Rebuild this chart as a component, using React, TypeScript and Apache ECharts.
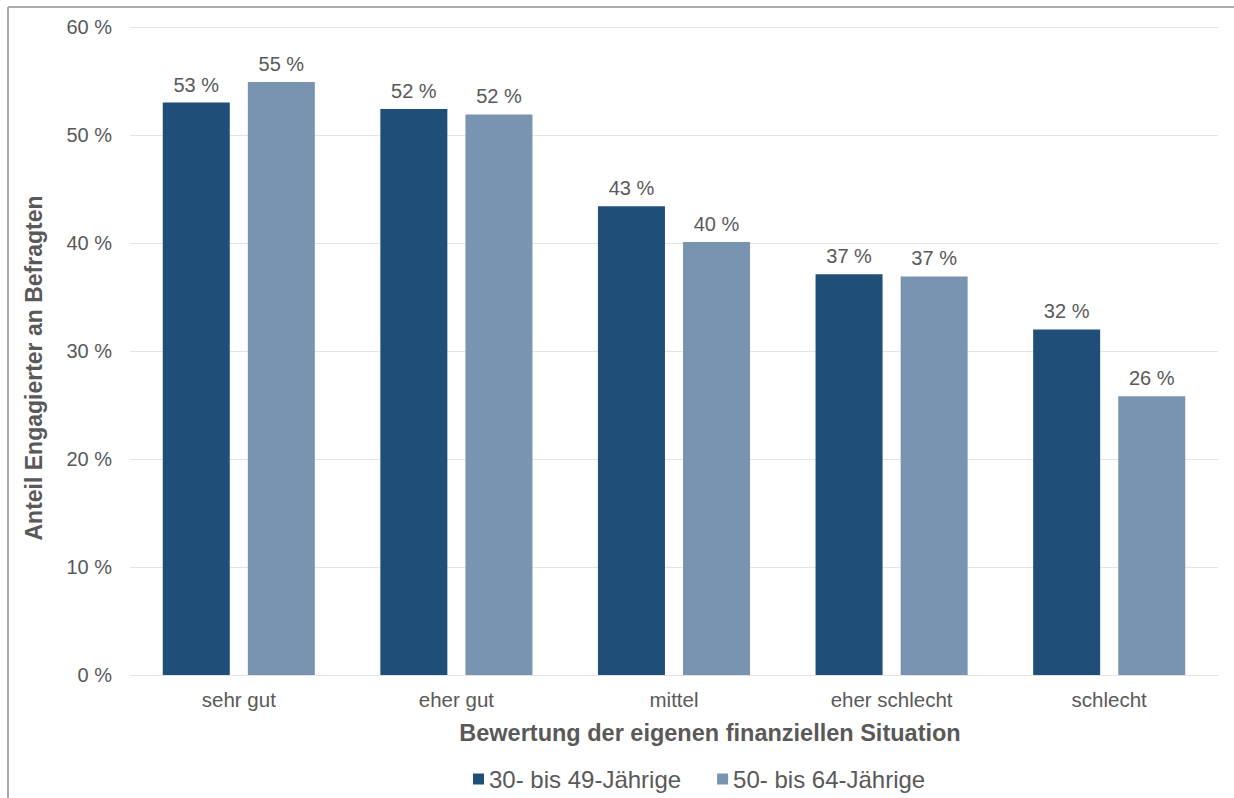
import React, { useEffect, useRef } from "react";
import * as echarts from "echarts";

const categories = ["sehr gut", "eher gut", "mittel", "eher schlecht", "schlecht"];
const seriesNames = ["30- bis 49-Jährige", "50- bis 64-Jährige"];
const values30to49 = [53.0, 52.4, 43.4, 37.1, 32.0];
const values50to64 = [54.9, 51.9, 40.1, 36.9, 25.8];
const yTicks = [0, 10, 20, 30, 40, 50, 60];
const yAxisTitle = "Anteil Engagierter an Befragten";
const xAxisTitle = "Bewertung der eigenen finanziellen Situation";

const TEXT = "#595959";
const FONT = "'Liberation Sans', Arial, sans-serif";

export default function App() {
  const ref = useRef<HTMLDivElement>(null);
  useEffect(() => {
    document.body.style.margin = "0";
    const chart = echarts.init(ref.current!, null, { renderer: "svg" });
    const label = {
      show: true,
      position: "top" as const,
      distance: 8,
      color: TEXT,
      fontSize: 20,
      fontFamily: FONT,
      formatter: (p: any) => Math.round(p.value) + " %",
    };
    chart.setOption({
      animation: false,
      backgroundColor: "#ffffff",
      textStyle: { fontFamily: FONT },
      grid: { left: 130, right: 16, top: 27, bottom: 123, containLabel: false },
      legend: {
        data: seriesNames,
        left: 468,
        top: 762,
        itemWidth: 11,
        itemHeight: 11,
        itemGap: 36,
        icon: "rect",
        textStyle: { color: TEXT, fontSize: 24, fontFamily: FONT },
      },
      xAxis: {
        type: "category",
        data: categories,
        axisLine: { show: true, lineStyle: { color: "#e3e3e3", width: 1 } },
        axisTick: { show: false },
        axisLabel: { color: TEXT, fontSize: 20.5, fontFamily: FONT, margin: 14 },
      },
      yAxis: {
        type: "value",
        min: 0,
        max: 60,
        interval: 10,
        axisLine: { show: false },
        axisTick: { show: false },
        splitLine: { lineStyle: { color: "#e3e3e3", width: 1 } },
        axisLabel: {
          color: TEXT,
          fontSize: 20,
          fontFamily: FONT,
          margin: 18,
          formatter: (v: number) => (yTicks.includes(v) ? v + " %" : ""),
        },
      },
      graphic: [
        { type: "line", shape: { x1: 8, y1: 7, x2: 1234, y2: 7 }, style: { stroke: "#ababab", lineWidth: 2 } },
        { type: "line", shape: { x1: 8, y1: 7, x2: 8, y2: 798 }, style: { stroke: "#ababab", lineWidth: 2 } },
        {
          type: "text",
          x: 34,
          y: 368,
          rotation: Math.PI / 2,
          style: {
            text: yAxisTitle,
            fill: TEXT,
            font: `bold 23px ${FONT}`,
            textAlign: "center",
            textVerticalAlign: "middle",
          },
        },
        {
          type: "text",
          x: 710,
          y: 733,
          style: {
            text: xAxisTitle,
            fill: TEXT,
            font: `bold 23.5px ${FONT}`,
            textAlign: "center",
            textVerticalAlign: "middle",
          },
        },
      ],
      series: [
        {
          name: seriesNames[0],
          type: "bar",
          data: values30to49,
          barWidth: 67,
          barGap: "27%",
          itemStyle: { color: "#1F4E79" },
          label,
        },
        {
          name: seriesNames[1],
          type: "bar",
          data: values50to64,
          barWidth: 67,
          itemStyle: { color: "#7894B0" },
          label,
        },
      ],
    });
    return () => chart.dispose();
  }, []);
  return <div ref={ref} style={{ width: 1234, height: 798 }} />;
}
